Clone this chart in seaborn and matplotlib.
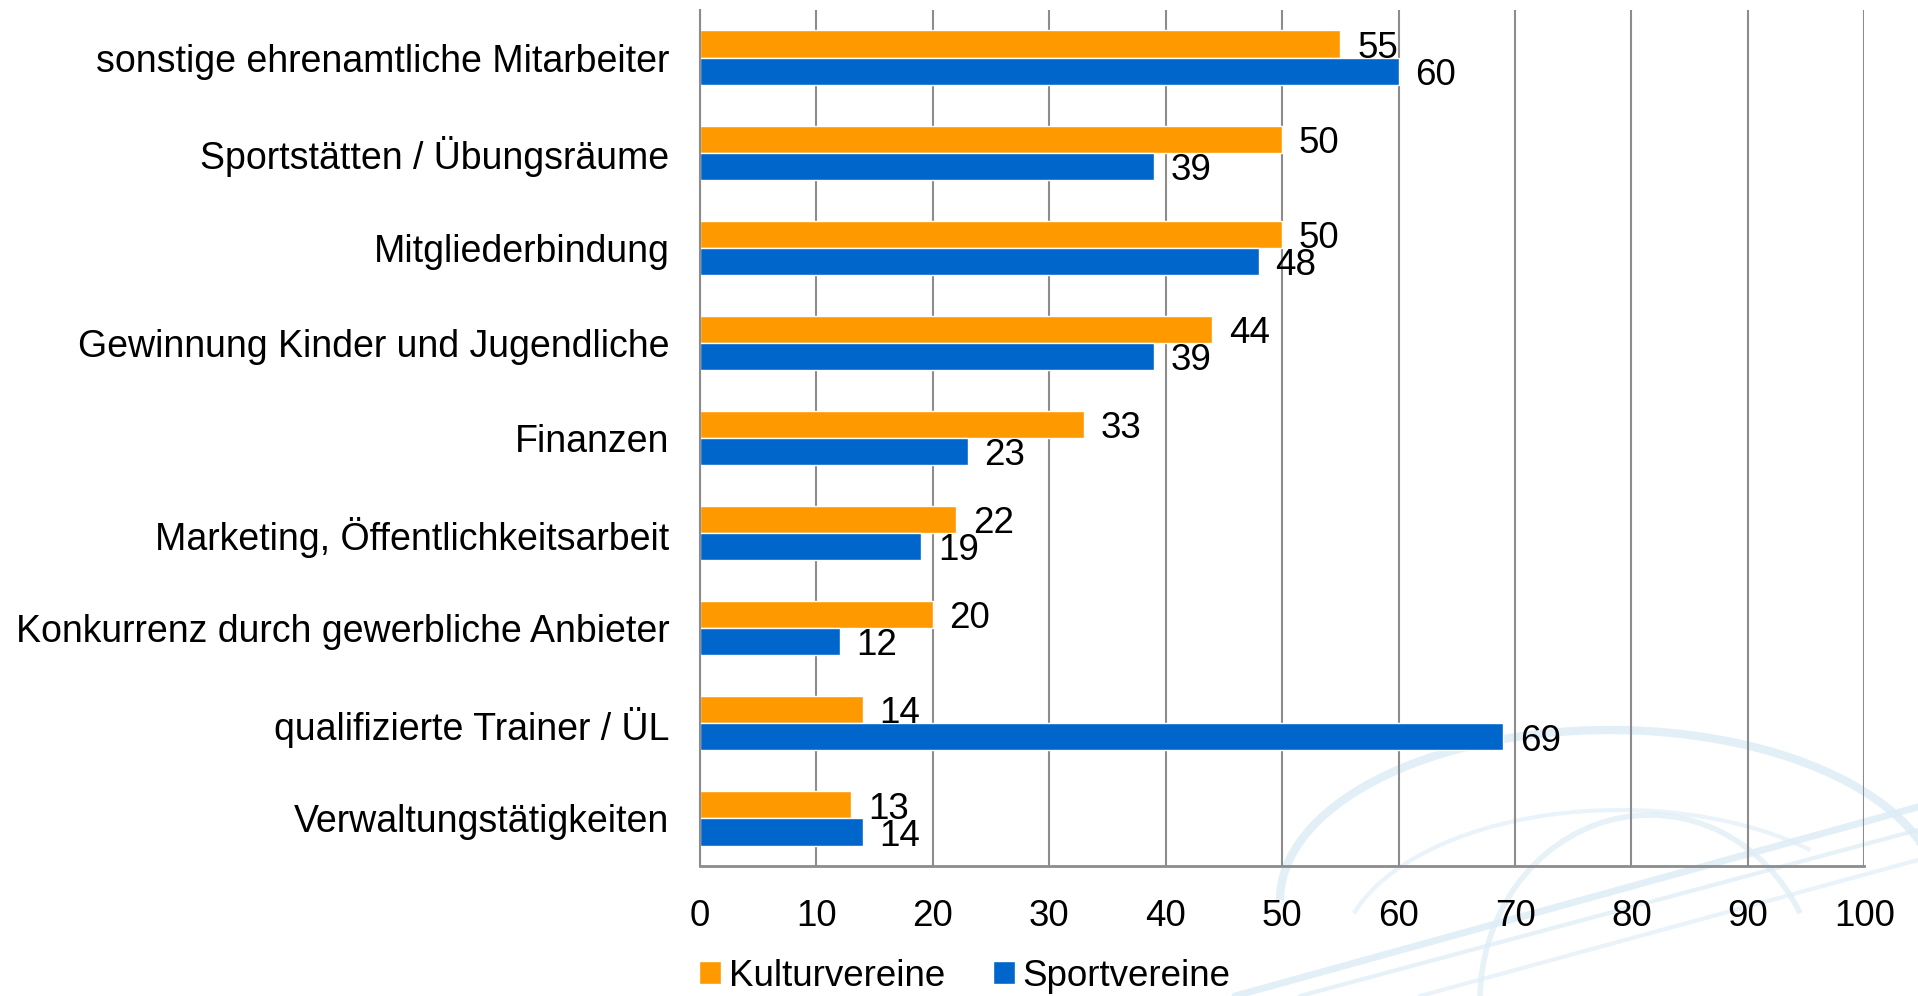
import pandas as pd
import matplotlib.pyplot as plt
import seaborn as sns
from matplotlib.patches import Arc

# Daten
kategorien = [
    "sonstige ehrenamtliche Mitarbeiter",
    "Sportstätten / Übungsräume",
    "Mitgliederbindung",
    "Gewinnung Kinder und Jugendliche",
    "Finanzen",
    "Marketing, Öffentlichkeitsarbeit",
    "Konkurrenz durch gewerbliche Anbieter",
    "qualifizierte Trainer / ÜL",
    "Verwaltungstätigkeiten",
]
kulturvereine = [55, 50, 50, 44, 33, 22, 20, 14, 13]
sportvereine = [60, 39, 48, 39, 23, 19, 12, 69, 14]
x_ticks = [0, 10, 20, 30, 40, 50, 60, 70, 80, 90, 100]

farben = {"Kulturvereine": "#FF9900", "Sportvereine": "#0066CC"}

df = pd.DataFrame({
    "Kategorie": kategorien * 2,
    "Wert": kulturvereine + sportvereine,
    "Gruppe": ["Kulturvereine"] * len(kategorien) + ["Sportvereine"] * len(kategorien),
})

sns.set_style("white")
plt.rcParams["font.family"] = ["Liberation Sans", "DejaVu Sans"]
plt.rcParams["text.color"] = "black"
plt.rcParams["xtick.color"] = "black"
plt.rcParams["ytick.color"] = "black"

fig = plt.figure(figsize=(19.18, 9.96), dpi=100)

# Hintergrund-Dekor (hellblaue Bögen unten rechts)
bg = fig.add_axes([0, 0, 1, 1], zorder=-1)
bg.set_xlim(0, 1918)
bg.set_ylim(996, 0)
bg.axis("off")
deko = "#dcecf6"
bg.add_patch(Arc((1610, 900), 660, 340, theta1=180, theta2=360, color=deko, lw=6, alpha=0.8))
bg.add_patch(Arc((1650, 1000), 340, 370, theta1=180, theta2=330, color=deko, lw=4, alpha=0.7))
bg.add_patch(Arc((1620, 960), 560, 300, theta1=190, theta2=330, color=deko, lw=3, alpha=0.6))
bg.plot([1235, 1918], [996, 807], color=deko, lw=5, alpha=0.8)
bg.plot([1300, 1918], [996, 830], color=deko, lw=3, alpha=0.7)
bg.plot([1420, 1918], [996, 860], color=deko, lw=3, alpha=0.6)

ax = fig.add_axes([0.365, 0.1305, 0.607, 0.8595])
ax.patch.set_alpha(0)

sns.barplot(data=df, y="Kategorie", x="Wert", hue="Gruppe", order=kategorien,
            hue_order=["Kulturvereine", "Sportvereine"], palette=farben,
            orient="h", width=0.57, saturation=1, ax=ax, legend=True)

# Werte an den Balken
for cont in ax.containers:
    anns = ax.bar_label(cont, fmt="%d", padding=12, fontsize=26.5, color="black")
    for a in anns:
        a.xyann = (12, -3)

ax.set_xlim(0, 100)
ax.set_ylim(8.5, -0.5)
ax.set_xticks(x_ticks)
ax.set_xlabel("")
ax.set_ylabel("")
ax.xaxis.grid(True, color="#8c8c8c", linewidth=1.5)
ax.set_axisbelow(True)

for s in ["top", "right"]:
    ax.spines[s].set_visible(False)
ax.spines["left"].set_color("#8c8c8c")
ax.spines["left"].set_linewidth(1.5)
ax.spines["bottom"].set_color("#8c8c8c")
ax.spines["bottom"].set_linewidth(2)

ax.tick_params(axis="x", length=12, width=1.5, color="#8c8c8c", pad=12, labelsize=26.5)
ax.tick_params(axis="y", length=0, pad=22, labelsize=27)
ax.set_yticks([i - 0.5 for i in range(len(kategorien) + 1)], minor=True)
ax.tick_params(axis="y", which="minor", length=9, width=1.5, color="#8c8c8c")

handles, labels = ax.get_legend_handles_labels()
ax.get_legend().remove()
fig.legend(handles, labels, loc="center", bbox_to_anchor=(0.503, 0.02), ncol=2,
           frameon=False, fontsize=26.5, handlelength=0.6, handleheight=0.6,
           handletextpad=0.2, columnspacing=1.3)

plt.savefig("out.png", dpi=100)
